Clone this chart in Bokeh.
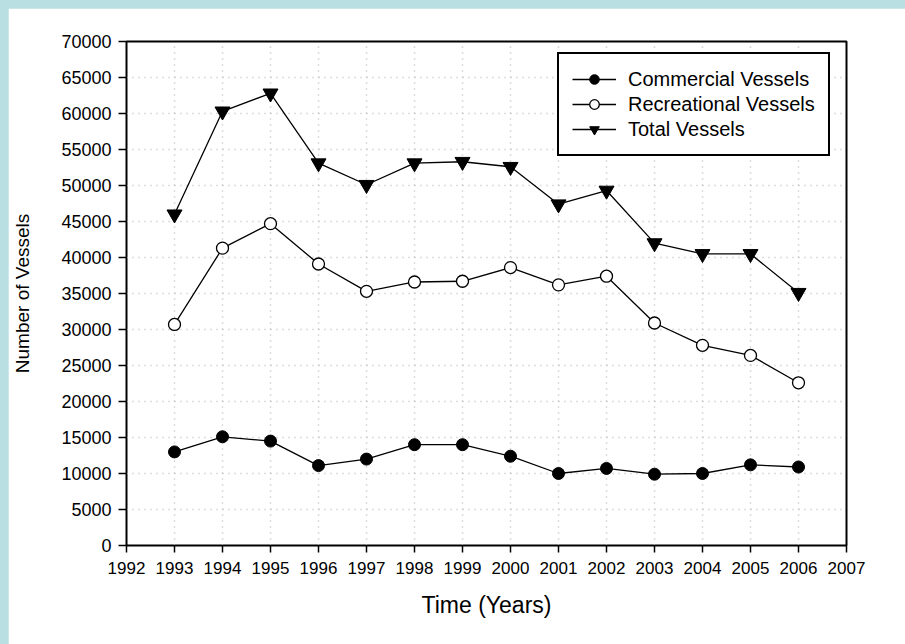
from bokeh.plotting import figure
from bokeh.models import FixedTicker, Legend, LegendItem, GlobalInlineStyleSheet, Range1d, PrintfTickFormatter
from bokeh.embed import file_html
from bokeh.resources import INLINE

# ---- data ----
years = [1993, 1994, 1995, 1996, 1997, 1998, 1999, 2000, 2001, 2002, 2003, 2004, 2005, 2006]
commercial = [13000, 15100, 14500, 11100, 12000, 14000, 14000, 12400, 10000, 10700, 9900, 10000, 11200, 10900]
recreational = [30700, 41300, 44700, 39100, 35300, 36600, 36700, 38600, 36200, 37400, 30900, 27800, 26400, 22600]
total = [46000, 60300, 62800, 53100, 50100, 53100, 53300, 52600, 47400, 49300, 42000, 40500, 40500, 35100]

x_ticks = list(range(1992, 2008))
y_ticks = list(range(0, 70001, 5000))
series_names = ["Commercial Vessels", "Recreational Vessels", "Total Vessels"]
x_title = "Time (Years)"
y_title = "Number of Vessels"

FONT = "Liberation Sans"
NARROW = "'Liberation Sans Narrow', 'Liberation Sans', sans-serif"

page_css = GlobalInlineStyleSheet(css=(
    "html { margin: 0; padding: 0; background-color: #badfe3; overflow: hidden; } "
    "body { margin: 8px 0 0 8px; padding: 0; background-color: #badfe3; overflow: hidden; }"
))

p = figure(width=897, height=636, output_backend="svg", toolbar_location=None,
           x_range=Range1d(x_ticks[0], x_ticks[-1]), y_range=Range1d(y_ticks[0], y_ticks[-1]),
           min_border_left=118, min_border_right=59, min_border_top=33, min_border_bottom=99)
p.stylesheets = [page_css]
p.background_fill_color = "white"
p.border_fill_color = "white"
p.outline_line_color = "black"
p.outline_line_width = 2
p.outline_line_alpha = 1

# axes
p.xaxis.ticker = FixedTicker(ticks=x_ticks)
p.yaxis.ticker = FixedTicker(ticks=y_ticks)
p.yaxis.formatter = PrintfTickFormatter(format="%d")
p.xaxis.formatter = PrintfTickFormatter(format="%d")
for ax in (p.xaxis, p.yaxis):
    ax.axis_line_color = "black"
    ax.axis_line_width = 1
    ax.major_tick_line_color = "black"
    ax.major_tick_line_width = 1.5
    ax.major_tick_in = 0
    ax.minor_tick_line_color = None
    ax.major_label_text_color = "black"
    ax.axis_label_text_color = "black"
    ax.axis_label_text_font_style = "normal"
    ax.axis_label_text_font = FONT

p.xaxis.major_tick_out = 7
p.xaxis.major_label_standoff = 9
p.xaxis.major_label_text_font = NARROW
p.xaxis.major_label_text_font_size = "17px"
p.xaxis.axis_label = x_title
p.xaxis.axis_label_text_font_size = "23px"
p.xaxis.axis_label_standoff = 15

p.yaxis.major_tick_out = 8
p.yaxis.major_label_standoff = 7
p.yaxis.major_label_text_font = FONT
p.yaxis.major_label_text_font_size = "18px"
p.yaxis.axis_label = y_title
p.yaxis.axis_label_text_font_size = "19px"
p.yaxis.axis_label_standoff = 25

# grids
p.xgrid.ticker = FixedTicker(ticks=years)
p.ygrid.ticker = FixedTicker(ticks=y_ticks)
for g in (p.xgrid, p.ygrid):
    g.grid_line_color = "#bcbcbc"
    g.grid_line_dash = "1 5"
    g.grid_line_width = 1.5

# series
l1 = p.line(years, commercial, line_color="black", line_width=1.3)
s1 = p.scatter(years, commercial, marker="circle", size=12, fill_color="black", line_color="black")
l2 = p.line(years, recreational, line_color="black", line_width=1.3)
s2 = p.scatter(years, recreational, marker="circle", size=12, fill_color="white", line_color="black", line_width=1.3)
l3 = p.line(years, total, line_color="black", line_width=1.3)
s3 = p.scatter(years, total, marker="inverted_triangle", size=15, fill_color="black", line_color="black")

legend = Legend(items=[
    LegendItem(label=series_names[0], renderers=[l1, s1]),
    LegendItem(label=series_names[1], renderers=[l2, s2]),
    LegendItem(label=series_names[2], renderers=[l3, s3]),
], location=(431, 389))
legend.margin = 0
legend.padding = 13
legend.spacing = 1
legend.glyph_width = 44
legend.glyph_height = 24
legend.label_height = 24
legend.label_standoff = 12
legend.label_text_font = FONT
legend.label_text_font_size = "20px"
legend.label_text_color = "black"
legend.border_line_color = "black"
legend.border_line_alpha = 1
legend.border_line_width = 2
legend.background_fill_color = "white"
legend.background_fill_alpha = 1
p.add_layout(legend)

open("out.html", "w").write(file_html(p, INLINE))
